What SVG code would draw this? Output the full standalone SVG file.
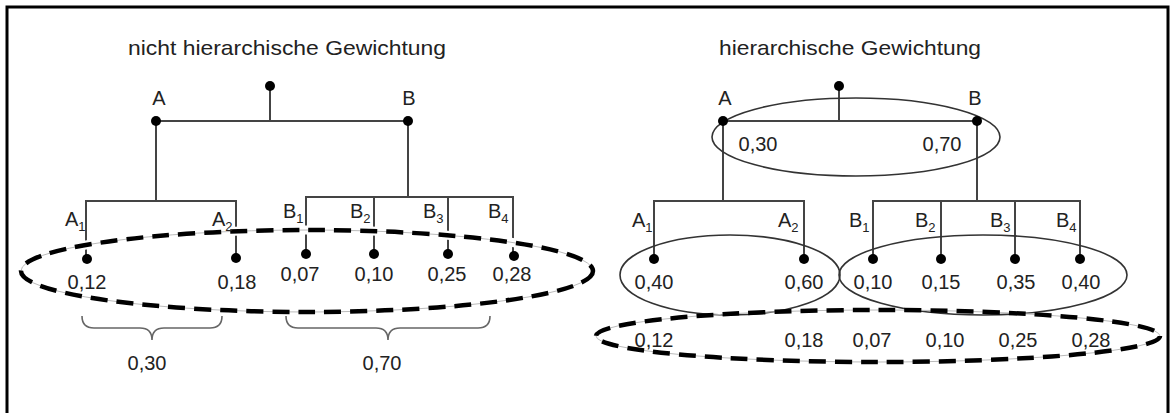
<svg xmlns="http://www.w3.org/2000/svg" width="1174" height="413" viewBox="0 0 1174 413">
<style>
text{font-family:"Liberation Sans",Arial,sans-serif;fill:#222}
.t{font-size:21px}
.l{font-size:20px;text-anchor:middle}
.s{font-size:20px}
.sub{font-size:13px}
.v{font-size:20px;text-anchor:middle}
.ln{stroke:#444;stroke-width:2;fill:none}
.dot{fill:#000}
.halo{fill:none;stroke:#fff;stroke-width:9}
.thin{fill:none;stroke:#bbb;stroke-width:1}
.dash{fill:none;stroke:#000;stroke-width:4.5;stroke-dasharray:17 9}
.oval{fill:none;stroke:#333;stroke-width:1.6}
.brace{fill:none;stroke:#666;stroke-width:1.6}
</style>
<rect x="7" y="7" width="1161" height="420" fill="#fff" stroke="#000" stroke-width="3"/>

<!-- LEFT: nicht hierarchische Gewichtung -->
<text class="t" x="128" y="55" textLength="318" lengthAdjust="spacingAndGlyphs">nicht hierarchische Gewichtung</text>
<g id="connectors-left">
  <line class="ln" x1="270" y1="86" x2="270" y2="121"/>
  <line class="ln" x1="156" y1="121" x2="408" y2="121"/>
  <line class="ln" x1="156" y1="121" x2="156" y2="201"/>
  <polyline class="ln" points="86,259 86,201 236,201 236,258"/>
  <line class="ln" x1="408" y1="121" x2="408" y2="197"/>
  <polyline class="ln" points="306,254 306,197 513,197 513,256"/>
  <line class="ln" x1="374" y1="197" x2="374" y2="254"/>
  <line class="ln" x1="448" y1="197" x2="448" y2="254"/>
</g>
<g id="L-root"><circle class="dot" cx="270" cy="86" r="5"/></g>
<g id="L-A"><circle class="dot" cx="156" cy="121" r="5"/><text class="l" x="159" y="105">A</text></g>
<g id="L-B"><circle class="dot" cx="408" cy="121" r="5"/><text class="l" x="409" y="105">B</text></g>
<g id="L-ellipse">
  <ellipse class="halo" cx="307" cy="271" rx="286" ry="41"/>
  <ellipse class="thin" cx="307" cy="271" rx="286" ry="41"/>
  <ellipse class="dash" cx="307" cy="271" rx="286" ry="41"/>
</g>
<g id="L-A1"><text class="s" x="65" y="226">A<tspan class="sub" dy="5">1</tspan></text><circle class="dot" cx="87" cy="259" r="5"/><text class="v" x="87" y="289">0,12</text></g>
<g id="L-A2"><text class="s" x="212" y="226">A<tspan class="sub" dy="5">2</tspan></text><circle class="dot" cx="236" cy="258" r="5"/><text class="v" x="237" y="289">0,18</text></g>
<g id="L-B1"><text class="s" x="283" y="218">B<tspan class="sub" dy="5">1</tspan></text><circle class="dot" cx="306" cy="254" r="5"/><text class="v" x="300" y="281">0,07</text></g>
<g id="L-B2"><text class="s" x="350" y="218">B<tspan class="sub" dy="5">2</tspan></text><circle class="dot" cx="374" cy="254" r="5"/><text class="v" x="374" y="281">0,10</text></g>
<g id="L-B3"><text class="s" x="423" y="218">B<tspan class="sub" dy="5">3</tspan></text><circle class="dot" cx="448" cy="254" r="5"/><text class="v" x="447" y="281">0,25</text></g>
<g id="L-B4"><text class="s" x="488" y="218">B<tspan class="sub" dy="5">4</tspan></text><circle class="dot" cx="514" cy="256" r="5"/><text class="v" x="512" y="281">0,28</text></g>
<g id="L-braces">
  <path class="brace" d="M82,316 Q82,328 94,328 L140,328 Q152,328 152,340 Q152,328 164,328 L210,328 Q222,328 222,316"/>
  <path class="brace" d="M286,316 Q286,328 298,328 L376,328 Q388,328 388,340 Q388,328 400,328 L478,328 Q490,328 490,316"/>
  <text class="v" x="147" y="370">0,30</text>
  <text class="v" x="382" y="370">0,70</text>
</g>

<!-- RIGHT: hierarchische Gewichtung -->
<text class="t" x="719" y="55" textLength="262" lengthAdjust="spacingAndGlyphs">hierarchische Gewichtung</text>
<g id="connectors-right">
  <line class="ln" x1="839" y1="86" x2="839" y2="121"/>
  <line class="ln" x1="723" y1="121" x2="977" y2="121"/>
  <line class="ln" x1="723" y1="121" x2="723" y2="201"/>
  <polyline class="ln" points="654,259 654,201 804,201 804,259"/>
  <line class="ln" x1="977" y1="121" x2="977" y2="201"/>
  <polyline class="ln" points="873,259 873,201 1080,201 1080,259"/>
  <line class="ln" x1="941" y1="201" x2="941" y2="259"/>
  <line class="ln" x1="1015" y1="201" x2="1015" y2="259"/>
</g>
<g id="R-top-oval"><ellipse class="oval" cx="856" cy="137" rx="144" ry="39"/><text class="v" x="758" y="151">0,30</text><text class="v" x="942" y="151">0,70</text></g>
<g id="R-root"><circle class="dot" cx="839" cy="86" r="5"/></g>
<g id="R-A"><circle class="dot" cx="723" cy="121" r="5"/><text class="l" x="725" y="105">A</text></g>
<g id="R-B"><circle class="dot" cx="977" cy="121" r="5"/><text class="l" x="975" y="105">B</text></g>
<g id="R-A-oval"><ellipse class="oval" cx="730" cy="275" rx="110" ry="40"/></g>
<g id="R-B-oval"><ellipse class="oval" cx="983" cy="275" rx="144" ry="40"/></g>
<g id="R-A1"><text class="s" x="632" y="227">A<tspan class="sub" dy="5">1</tspan></text><circle class="dot" cx="654" cy="259" r="5"/><text class="v" x="654" y="289">0,40</text></g>
<g id="R-A2"><text class="s" x="778" y="227">A<tspan class="sub" dy="5">2</tspan></text><circle class="dot" cx="804" cy="259" r="5"/><text class="v" x="804" y="289">0,60</text></g>
<g id="R-B1"><text class="s" x="849" y="227">B<tspan class="sub" dy="5">1</tspan></text><circle class="dot" cx="873" cy="259" r="5"/><text class="v" x="873" y="289">0,10</text></g>
<g id="R-B2"><text class="s" x="915" y="227">B<tspan class="sub" dy="5">2</tspan></text><circle class="dot" cx="941" cy="259" r="5"/><text class="v" x="941" y="289">0,15</text></g>
<g id="R-B3"><text class="s" x="990" y="227">B<tspan class="sub" dy="5">3</tspan></text><circle class="dot" cx="1015" cy="259" r="5"/><text class="v" x="1016" y="289">0,35</text></g>
<g id="R-B4"><text class="s" x="1056" y="227">B<tspan class="sub" dy="5">4</tspan></text><circle class="dot" cx="1080" cy="259" r="5"/><text class="v" x="1081" y="289">0,40</text></g>
<g id="R-ellipse">
  <ellipse class="thin" cx="878" cy="336" rx="282" ry="26"/>
  <ellipse class="dash" cx="878" cy="336" rx="282" ry="26"/>
  <text class="v" x="654" y="347">0,12</text>
  <text class="v" x="804" y="347">0,18</text>
  <text class="v" x="872" y="347">0,07</text>
  <text class="v" x="945" y="347">0,10</text>
  <text class="v" x="1018" y="347">0,25</text>
  <text class="v" x="1091" y="347">0,28</text>
</g>
</svg>
